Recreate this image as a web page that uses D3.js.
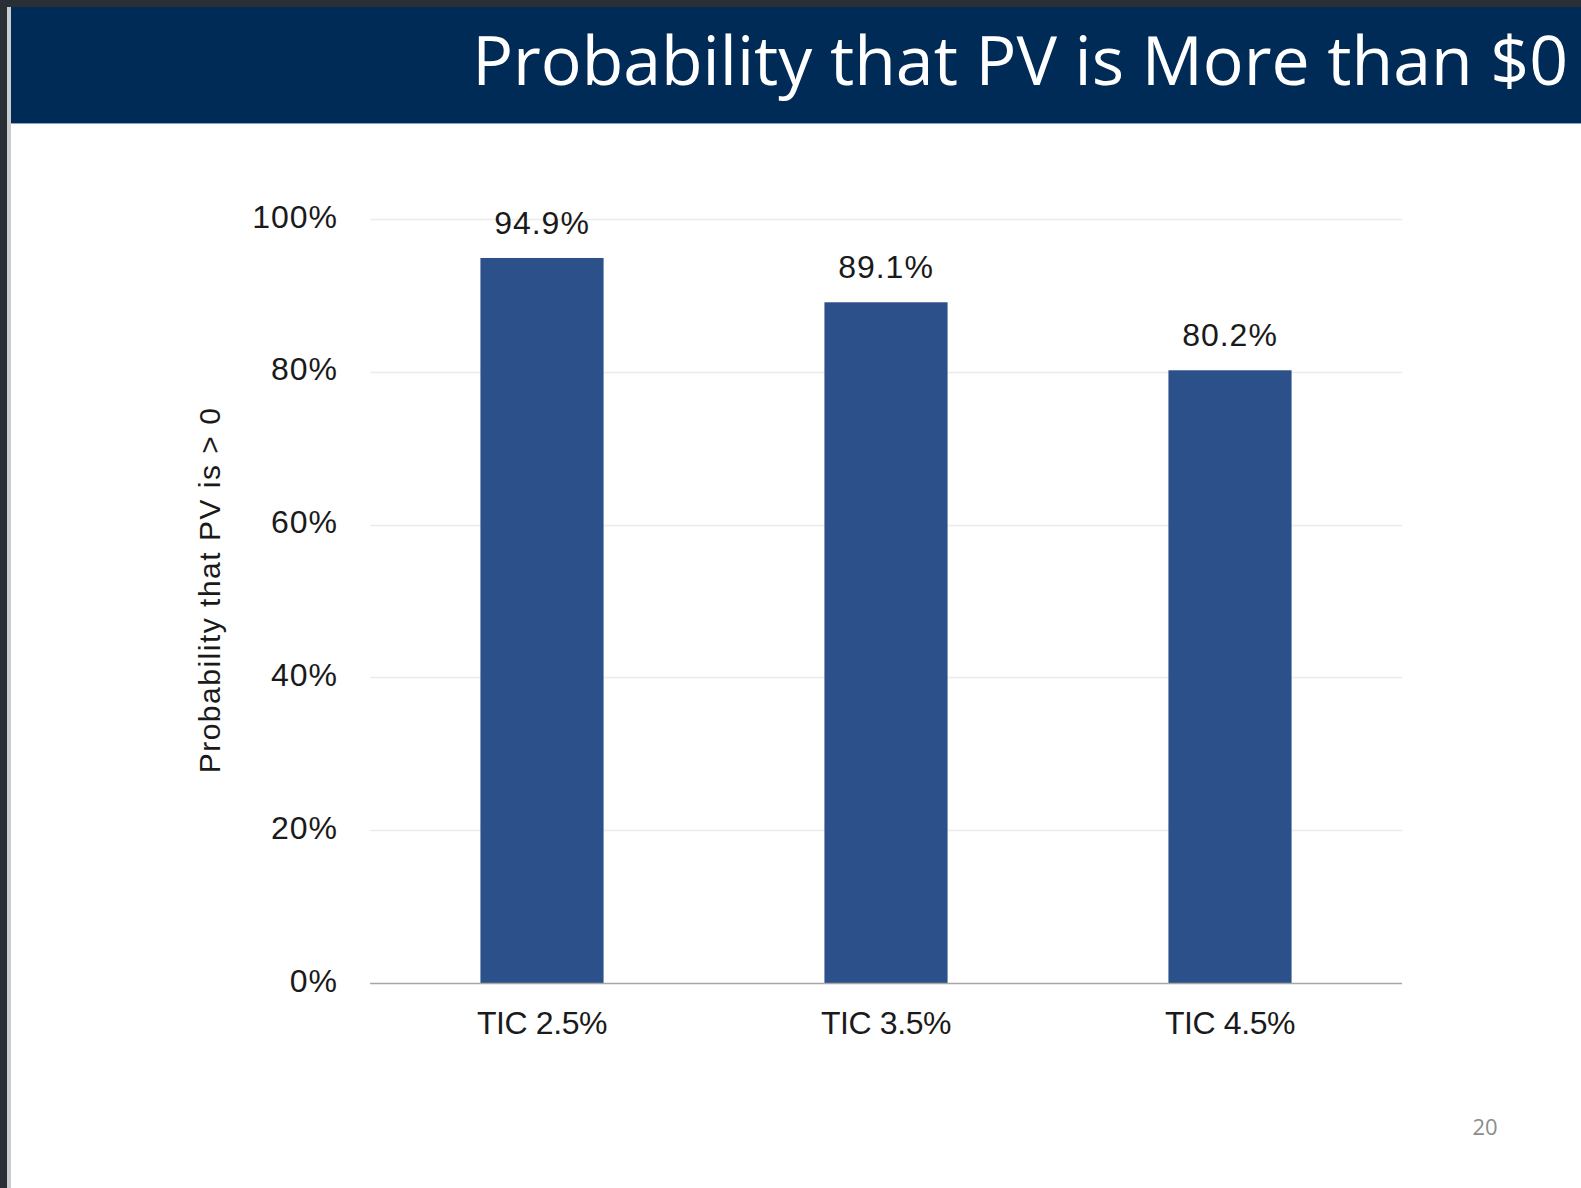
<!DOCTYPE html>
<html>
<head>
<meta charset="utf-8">
<script src="https://cdn.jsdelivr.net/npm/d3@7"></script>
<style>
  html, body { margin: 0; padding: 0; background: #2a2f36; }
  svg { display: block; }
</style>
</head>
<body>
<svg id="chart" width="1581" height="1188"></svg>
<script>
// Scenario categories and the probability (%) that present value exceeds $0
const categories = ["TIC 2.5%", "TIC 3.5%", "TIC 4.5%"];
const probabilities = [94.9, 89.1, 80.2];
const yTicks = [0, 20, 40, 60, 80, 100];
const titleText = "Probability that PV is More than $0";
const yAxisTitle = "Probability that PV is > 0";
const pageNumber = "20";

const W = 1581, H = 1188;
const svg = d3.select("#chart");

// window frame and slide
svg.append("rect").attr("x", 0).attr("y", 0).attr("width", W).attr("height", H).attr("fill", "#2a2f36");
svg.append("rect").attr("x", 7).attr("y", 7).attr("width", 4).attr("height", H - 7).attr("fill", "#c9ccd0");
svg.append("rect").attr("x", 11).attr("y", 7).attr("width", W - 11).attr("height", H - 7).attr("fill", "#ffffff");

// title banner
svg.append("rect").attr("x", 11).attr("y", 7).attr("width", W - 11).attr("height", 117).attr("fill", "#012b57");
svg.append("rect").attr("x", 11).attr("y", 123).attr("width", W - 11).attr("height", 1).attr("fill", "#8fa3bd");
const title = svg.append("text")
  .attr("x", 1568).attr("y", 85)
  .attr("text-anchor", "end")
  .attr("fill", "#ffffff")
  .style("font-family", "'Open Sans', 'DejaVu Sans', sans-serif")
  .style("font-size", "66px")
  .text(titleText);
// fit banner text to its span
const tw = title.node().getComputedTextLength();
title.style("font-size", (66 * 1096 / tw).toFixed(2) + "px");

// plot area
const plot = { left: 370, right: 1402, top: 219, bottom: 983 };

const x = d3.scaleBand()
  .domain(categories)
  .range([plot.left, plot.right])
  .paddingInner(0.642)
  .paddingOuter(0.321);

const y = d3.scaleLinear()
  .domain([0, 100])
  .range([plot.bottom, plot.top]);

const labelFont = "'Liberation Sans', Arial, sans-serif";

// gridlines
svg.append("g")
  .selectAll("line")
  .data(yTicks.filter(d => d > 0))
  .join("line")
  .attr("x1", plot.left).attr("x2", plot.right)
  .attr("y1", d => Math.round(y(d)) + 0.5).attr("y2", d => Math.round(y(d)) + 0.5)
  .attr("stroke", "#ebebeb").attr("stroke-width", 1.5);

// y axis labels
const yAxis = d3.axisLeft(y)
  .tickValues(yTicks)
  .tickFormat(d => d + "%")
  .tickSize(0)
  .tickPadding(0);
const yG = svg.append("g").attr("transform", `translate(${plot.left - 32},0)`).call(yAxis);
yG.select(".domain").remove();
yG.selectAll("text")
  .attr("fill", "#1a1a1a")
  .attr("dy", "0.25em")
  .style("font-family", labelFont)
  .style("font-size", "32px")
  .style("letter-spacing", "1px");

// bars
svg.append("g")
  .selectAll("rect")
  .data(probabilities)
  .join("rect")
  .attr("x", (d, i) => x(categories[i]))
  .attr("y", d => y(d))
  .attr("width", x.bandwidth())
  .attr("height", d => y(0) - y(d))
  .attr("fill", "#2c5089");

// value labels
svg.append("g")
  .selectAll("text")
  .data(probabilities)
  .join("text")
  .attr("x", (d, i) => x(categories[i]) + x.bandwidth() / 2)
  .attr("y", d => y(d) - 24)
  .attr("text-anchor", "middle")
  .attr("fill", "#1a1a1a")
  .style("font-family", labelFont)
  .style("font-size", "32px")
  .style("letter-spacing", "1px")
  .text(d => d.toFixed(1) + "%");

// baseline
svg.append("line")
  .attr("x1", plot.left).attr("x2", plot.right)
  .attr("y1", plot.bottom + 0.5).attr("y2", plot.bottom + 0.5)
  .attr("stroke", "#a6a6a6").attr("stroke-width", 1.5);

// x axis labels
const xAxis = d3.axisBottom(x).tickSize(0).tickPadding(0);
const xG = svg.append("g").attr("transform", `translate(0,${plot.bottom + 51})`).call(xAxis);
xG.select(".domain").remove();
xG.selectAll("text")
  .attr("dy", 0)
  .attr("fill", "#1a1a1a")
  .style("font-family", labelFont)
  .style("font-size", "32px")
  .style("letter-spacing", "-0.4px");

// y axis title
svg.append("text")
  .attr("transform", `translate(220,${(plot.top + plot.bottom) / 2 - 11}) rotate(-90)`)
  .attr("text-anchor", "middle")
  .attr("fill", "#1a1a1a")
  .style("font-family", labelFont)
  .style("font-size", "30px")
  .style("letter-spacing", "1.5px")
  .text(yAxisTitle);

// page number
svg.append("text")
  .attr("x", 1485).attr("y", 1135)
  .attr("text-anchor", "middle")
  .attr("fill", "#8c8c8c")
  .style("font-family", "'Open Sans', sans-serif")
  .style("font-size", "22px")
  .text(pageNumber);
</script>
</body>
</html>
